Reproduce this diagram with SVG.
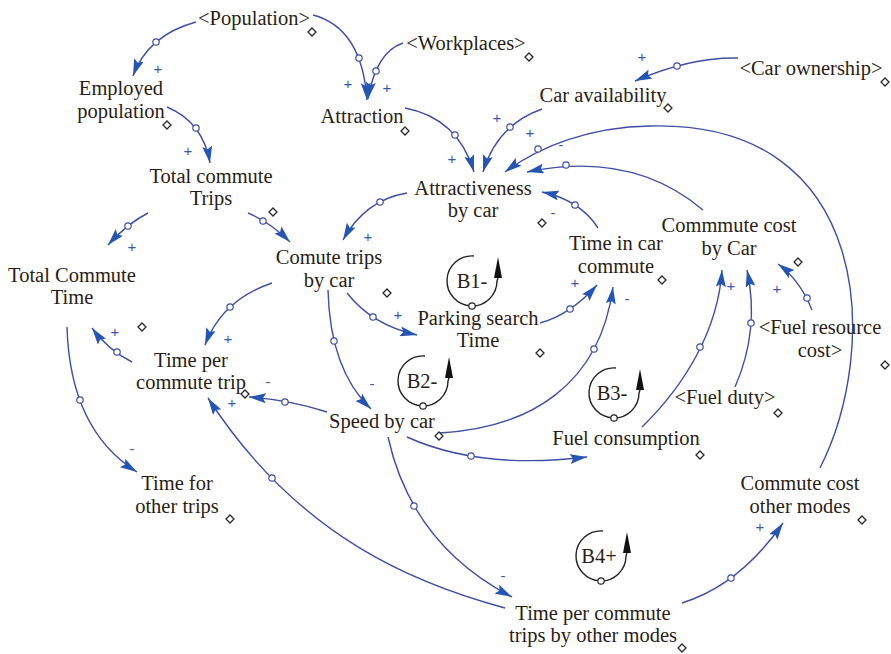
<svg xmlns="http://www.w3.org/2000/svg" width="891" height="654" viewBox="0 0 891 654">
  <style>
    .lbl { font-size: 20.5px; fill: #2a1d17; text-anchor: middle; }
    .pol { font-family: "Liberation Sans", Arial, sans-serif; font-size: 15px; fill: #3c55b0; text-anchor: middle; }
    .link { fill: none; stroke: #3d4ea6; stroke-width: 1.4; marker-end: url(#arrow); }
    .hnd { fill: #fff; stroke: #3d4ea6; stroke-width: 1.2; }
    .dia { fill: #fff; stroke: #2a2a2a; stroke-width: 1.3; }
    .loop { fill: none; stroke: #222; stroke-width: 1.4; }
    .loophnd { fill: #fff; stroke: #222; stroke-width: 1.2; }
  </style>
  <defs>
    <marker id="arrow" markerUnits="userSpaceOnUse" viewBox="0 0 17 10" refX="17" refY="5" markerWidth="17" markerHeight="10" orient="auto">
      <path d="M0,0 L17,5 L0,10 L3,5 z" fill="#2454b4"/>
    </marker>
    <path id="d" d="M0,-4 L4,0 L0,4 L-4,0 z"/>
  </defs>
  <rect width="891" height="654" fill="#fff"/>

  <!-- causal links: curve, handle circle, polarity sign -->
  <g id="connectors">
    <path class="link" d="M196,22 Q148,35 133,76"/>
    <circle class="hnd" cx="156" cy="42" r="3.2"/>
    <text class="pol" x="158" y="74">+</text>

    <path class="link" d="M313,15 Q362,28 367,100"/>
    <circle class="hnd" cx="359" cy="58" r="3.2"/>
    <text class="pol" x="348" y="89">+</text>

    <path class="link" d="M403,43 Q376,52 368,99"/>
    <circle class="hnd" cx="376" cy="71" r="3.2"/>
    <text class="pol" x="387" y="93">+</text>

    <path class="link" d="M167,107 Q203,122 210,163"/>
    <circle class="hnd" cx="196" cy="128" r="3.2"/>
    <text class="pol" x="188" y="156">+</text>

    <path class="link" d="M738,58 Q690,57 635,81"/>
    <circle class="hnd" cx="677" cy="66" r="3.2"/>
    <text class="pol" x="642" y="62">+</text>

    <path class="link" d="M405,108 Q458,118 474,172"/>
    <circle class="hnd" cx="455" cy="135" r="3.2"/>
    <text class="pol" x="452" y="164">+</text>

    <path class="link" d="M542,109 Q497,125 483,172"/>
    <circle class="hnd" cx="510" cy="127" r="3.2"/>
    <text class="pol" x="497" y="123">+</text>

    <path class="link" d="M820,468 C880,350 875,120 650,126 C590,127 540,146 505,172"/>
    <circle class="hnd" cx="538" cy="149" r="3.2"/>
    <text class="pol" x="530" y="138">+</text>

    <path class="link" d="M703,210 Q632,150 527,172"/>
    <circle class="hnd" cx="566" cy="165" r="3.2"/>
    <text class="pol" x="561" y="150">-</text>

    <path class="link" d="M598,228 Q580,200 542,192"/>
    <circle class="hnd" cx="575" cy="205" r="3.2"/>
    <text class="pol" x="553" y="218">-</text>

    <path class="link" d="M148,213 Q128,223 108,245"/>
    <circle class="hnd" cx="128" cy="226" r="3.2"/>
    <text class="pol" x="132" y="252">+</text>

    <path class="link" d="M248,213 Q270,222 290,242"/>
    <circle class="hnd" cx="263" cy="221" r="3.2"/>

    <path class="link" d="M407,193 Q365,200 343,240"/>
    <circle class="hnd" cx="380" cy="202" r="3.2"/>
    <text class="pol" x="368" y="242">+</text>

    <path class="link" d="M272,283 Q222,300 205,345"/>
    <circle class="hnd" cx="230" cy="307" r="3.2"/>
    <text class="pol" x="228" y="344">+</text>

    <path class="link" d="M347,293 Q372,325 417,335"/>
    <circle class="hnd" cx="373" cy="317" r="3.2"/>
    <text class="pol" x="398" y="320">+</text>

    <path class="link" d="M328,290 Q330,370 371,409"/>
    <circle class="hnd" cx="334" cy="341" r="3.2"/>
    <text class="pol" x="372" y="389">-</text>

    <path class="link" d="M132,362 Q108,350 92,328"/>
    <circle class="hnd" cx="117" cy="352" r="3.2"/>
    <text class="pol" x="115" y="337">+</text>

    <path class="link" d="M67,327 Q70,430 137,472"/>
    <circle class="hnd" cx="80" cy="400" r="3.2"/>
    <text class="pol" x="132" y="454">-</text>

    <path class="link" d="M327,412 Q290,400 249,397"/>
    <circle class="hnd" cx="285" cy="402" r="3.2"/>
    <text class="pol" x="268" y="387">-</text>

    <path class="link" d="M505,608 C420,585 300,540 208,398"/>
    <circle class="hnd" cx="272" cy="478" r="3.2"/>
    <text class="pol" x="232" y="408">+</text>

    <path class="link" d="M388,437 Q412,545 512,597"/>
    <circle class="hnd" cx="414" cy="506" r="3.2"/>
    <text class="pol" x="503" y="581">-</text>

    <path class="link" d="M440,433 C530,428 600,385 613,287"/>
    <circle class="hnd" cx="594" cy="349" r="3.2"/>
    <text class="pol" x="627" y="304">-</text>

    <path class="link" d="M540,323 Q570,315 597,285"/>
    <circle class="hnd" cx="570" cy="309" r="3.2"/>
    <text class="pol" x="575" y="288">+</text>

    <path class="link" d="M407,437 Q480,470 587,457"/>
    <circle class="hnd" cx="471" cy="456" r="3.2"/>

    <path class="link" d="M642,427 C685,385 718,330 722,270"/>
    <circle class="hnd" cx="700" cy="347" r="3.2"/>
    <text class="pol" x="731" y="291">+</text>

    <path class="link" d="M735,387 Q760,330 747,270"/>
    <circle class="hnd" cx="751" cy="323" r="3.2"/>

    <path class="link" d="M812,310 Q800,280 778,264"/>
    <circle class="hnd" cx="807" cy="298" r="3.2"/>
    <text class="pol" x="777" y="294">+</text>

    <path class="link" d="M682,603 Q740,585 783,523"/>
    <circle class="hnd" cx="731" cy="578" r="3.2"/>
    <text class="pol" x="760" y="532">+</text>
  </g>

  <!-- variables and loop markers share one serif face -->
  <g font-family="'Liberation Serif', 'Times New Roman', Times, 'Nimbus Roman', FreeSerif, 'DejaVu Serif', serif">
  <g id="population"><text class="lbl" x="254" y="25">&lt;Population&gt;</text><use href="#d" class="dia" x="312" y="32"/></g>
  <g id="workplaces"><text class="lbl" x="466" y="50">&lt;Workplaces&gt;</text><use href="#d" class="dia" x="529" y="57"/></g>
  <g id="car-ownership"><text class="lbl" x="811" y="75">&lt;Car ownership&gt;</text><use href="#d" class="dia" x="885" y="82"/></g>
  <g id="car-availability"><text class="lbl" x="603" y="102">Car availability</text><use href="#d" class="dia" x="668" y="108"/></g>
  <g id="employed-population"><text class="lbl" x="121" y="95">Employed</text><text class="lbl" x="121" y="118">population</text><use href="#d" class="dia" x="167" y="125"/></g>
  <g id="attraction"><text class="lbl" x="362" y="123">Attraction</text><use href="#d" class="dia" x="405" y="131"/></g>
  <g id="total-commute-trips"><text class="lbl" x="211" y="183">Total commute</text><text class="lbl" x="211" y="205">Trips</text><use href="#d" class="dia" x="273" y="212"/></g>
  <g id="attractiveness-by-car"><text class="lbl" x="473" y="195">Attractiveness</text><text class="lbl" x="473" y="217">by car</text><use href="#d" class="dia" x="542" y="223"/></g>
  <g id="comute-trips-by-car"><text class="lbl" x="329" y="264">Comute trips</text><text class="lbl" x="329" y="287">by car</text><use href="#d" class="dia" x="387" y="293"/></g>
  <g id="total-commute-time"><text class="lbl" x="72" y="282">Total Commute</text><text class="lbl" x="72" y="304">Time</text><use href="#d" class="dia" x="142" y="327"/></g>
  <g id="time-per-commute-trip"><text class="lbl" x="191" y="367">Time per</text><text class="lbl" x="191" y="389">commute trip</text><use href="#d" class="dia" x="245" y="394"/></g>
  <g id="speed-by-car"><text class="lbl" x="382" y="428">Speed by car</text><use href="#d" class="dia" x="439" y="436"/></g>
  <g id="time-for-other-trips"><text class="lbl" x="177" y="490">Time for</text><text class="lbl" x="177" y="513">other trips</text><use href="#d" class="dia" x="230" y="519"/></g>
  <g id="time-in-car-commute"><text class="lbl" x="616" y="250">Time in car</text><text class="lbl" x="616" y="273">commute</text><use href="#d" class="dia" x="662" y="280"/></g>
  <g id="commute-cost-by-car"><text class="lbl" x="729" y="232">Commmute cost</text><text class="lbl" x="729" y="255">by Car</text><use href="#d" class="dia" x="798" y="262"/></g>
  <g id="parking-search-time"><text class="lbl" x="478" y="325">Parking search</text><text class="lbl" x="478" y="347">Time</text><use href="#d" class="dia" x="540" y="353"/></g>
  <g id="fuel-resource-cost"><text class="lbl" x="820" y="334">&lt;Fuel resource</text><text class="lbl" x="820" y="357">cost&gt;</text><use href="#d" class="dia" x="885" y="365"/></g>
  <g id="fuel-duty"><text class="lbl" x="725" y="404">&lt;Fuel duty&gt;</text><use href="#d" class="dia" x="778" y="413"/></g>
  <g id="fuel-consumption"><text class="lbl" x="626" y="445">Fuel consumption</text><use href="#d" class="dia" x="700" y="455"/></g>
  <g id="commute-cost-other-modes"><text class="lbl" x="800" y="490">Commute cost</text><text class="lbl" x="800" y="513">other modes</text><use href="#d" class="dia" x="862" y="520"/></g>
  <g id="time-per-commute-trips-other-modes"><text class="lbl" x="593" y="620">Time per commute</text><text class="lbl" x="593" y="642">trips by other modes</text><use href="#d" class="dia" x="682" y="648"/></g>

  <g id="loop-b1">
    <path class="loop" d="M474,256 A25,25 0 1,0 497,281 L498,278"/>
    <polygon points="498,257 502,278 494,278" fill="#111"/>
    <circle class="loophnd" cx="472" cy="306" r="3.2"/>
    <text class="lbl" x="472" y="288">B1-</text>
  </g>
  <g id="loop-b2">
    <path class="loop" d="M425,356 A25,25 0 1,0 448,381 L449,378"/>
    <polygon points="449,357 453,378 445,378" fill="#111"/>
    <circle class="loophnd" cx="423" cy="406" r="3.2"/>
    <text class="lbl" x="422" y="388">B2-</text>
  </g>
  <g id="loop-b3">
    <path class="loop" d="M616,368 A25,25 0 1,0 639,393 L640,390"/>
    <polygon points="640,369 644,390 636,390" fill="#111"/>
    <circle class="loophnd" cx="614" cy="418" r="3.2"/>
    <text class="lbl" x="612" y="400">B3-</text>
  </g>
  <g id="loop-b4">
    <path class="loop" d="M603,531 A25,25 0 1,0 626,556 L627,553"/>
    <polygon points="627,532 631,553 623,553" fill="#111"/>
    <circle class="loophnd" cx="601" cy="581" r="3.2"/>
    <text class="lbl" x="599" y="563">B4+</text>
  </g>
  </g>
</svg>
